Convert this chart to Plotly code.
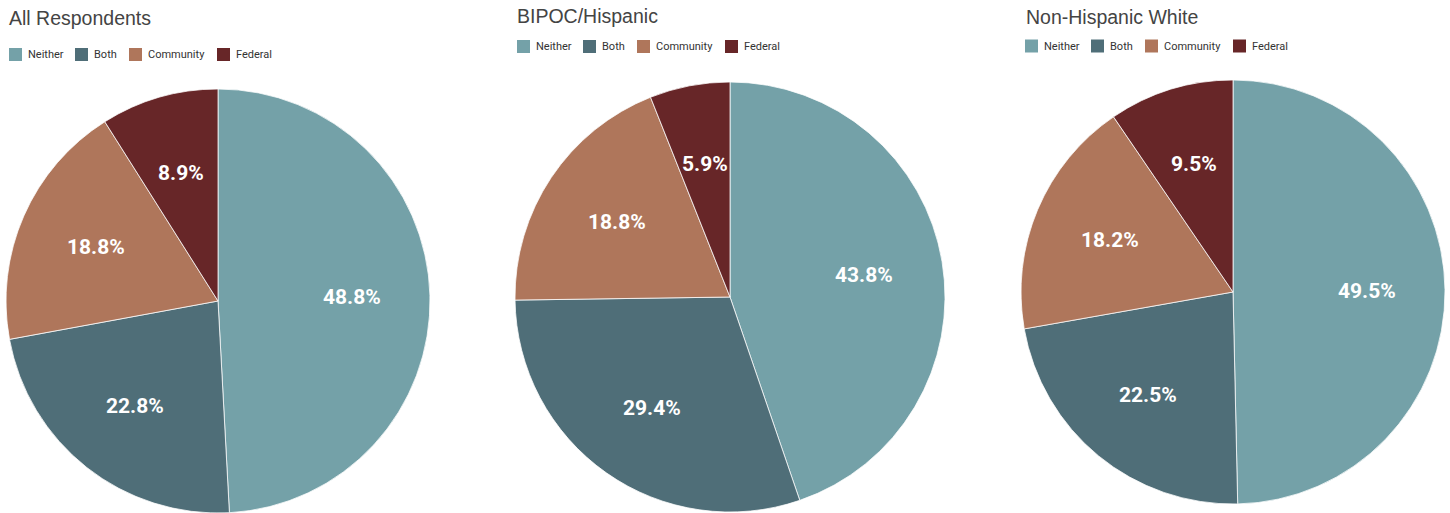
import math
import plotly.graph_objects as go

W, H = 1450, 513

categories = ["Neither", "Both", "Community", "Federal"]
all_respondents = [48.8, 22.8, 18.8, 8.9]
bipoc_hispanic = [43.8, 29.4, 18.8, 5.9]
non_hispanic_white = [49.5, 22.5, 18.2, 9.5]
titles = ["All Respondents", "BIPOC/Hispanic", "Non-Hispanic White"]

colors = ["#74A1A8", "#4F6E78", "#AF765B", "#672628"]

# pixel boxes (left, top, right, bottom) for each pie
boxes = [(6, 89, 430, 513), (515, 82, 945, 512), (1021, 80, 1445, 504)]
title_pos = [(7, 18), (515, 16), (1024, 17)]
legend_pos = [(9, 54.5), (517, 46.5), (1025, 46)]
legend_offsets = [0, 66, 120, 208]   # x offset of each legend entry
SWATCH = 13
LABEL_RADIUS = 0.63                   # fraction of radius for value labels


def px_x(x):
    return x / W


def px_y(y):
    return 1 - y / H


fig = go.Figure()
series = [all_respondents, bipoc_hispanic, non_hispanic_white]
annotations = []
shapes = []

for i, vals in enumerate(series):
    l, t, r, b = boxes[i]
    fig.add_trace(go.Pie(
        labels=categories,
        values=vals,
        sort=False,
        direction="clockwise",
        rotation=0,
        marker=dict(colors=colors, line=dict(color="rgba(255,255,255,0.75)", width=1)),
        textinfo="none",
        hovertemplate="%{label}: %{value:.1f}%<extra></extra>",
        domain=dict(x=[px_x(l), px_x(r)], y=[px_y(b), px_y(t)]),
        showlegend=False,
    ))

    # value labels placed along each slice's mid-angle
    cx, cy = (l + r) / 2, (t + b) / 2
    rad = min(r - l, b - t) / 2
    total = sum(vals)
    cum = 0.0
    for v in vals:
        mid = (cum + v / 2) / total * 2 * math.pi
        cum += v
        x = cx + LABEL_RADIUS * rad * math.sin(mid)
        y = cy - LABEL_RADIUS * rad * math.cos(mid)
        annotations.append(dict(
            text=f"{v:.1f}%", x=px_x(x), y=px_y(y), xref="paper", yref="paper",
            xanchor="center", yanchor="middle", showarrow=False,
            font=dict(family="Roboto", size=21, color="white", weight="bold"),
        ))

    # title
    tx, ty = title_pos[i]
    annotations.append(dict(
        text=titles[i], x=px_x(tx), y=px_y(ty), xref="paper", yref="paper",
        xanchor="left", yanchor="middle", showarrow=False,
        font=dict(family="Liberation Sans, Arial", size=19.5, color="#444444"),
    ))

    # legend row
    lx, ly = legend_pos[i]
    for cat, col, off in zip(categories, colors, legend_offsets):
        x0 = lx + off
        shapes.append(dict(
            type="rect", xref="paper", yref="paper",
            x0=px_x(x0), x1=px_x(x0 + SWATCH),
            y0=px_y(ly + SWATCH / 2), y1=px_y(ly - SWATCH / 2),
            fillcolor=col, line=dict(width=0),
        ))
        annotations.append(dict(
            text=cat, x=px_x(x0 + SWATCH + 4), y=px_y(ly), xref="paper", yref="paper",
            xanchor="left", yanchor="middle", showarrow=False,
            font=dict(family="Roboto", size=11, color="#333333"),
        ))

fig.update_layout(
    width=W, height=H,
    margin=dict(l=0, r=0, t=0, b=0),
    paper_bgcolor="white",
    plot_bgcolor="white",
    annotations=annotations,
    shapes=shapes,
    showlegend=False,
)

fig.write_html("out.html")
